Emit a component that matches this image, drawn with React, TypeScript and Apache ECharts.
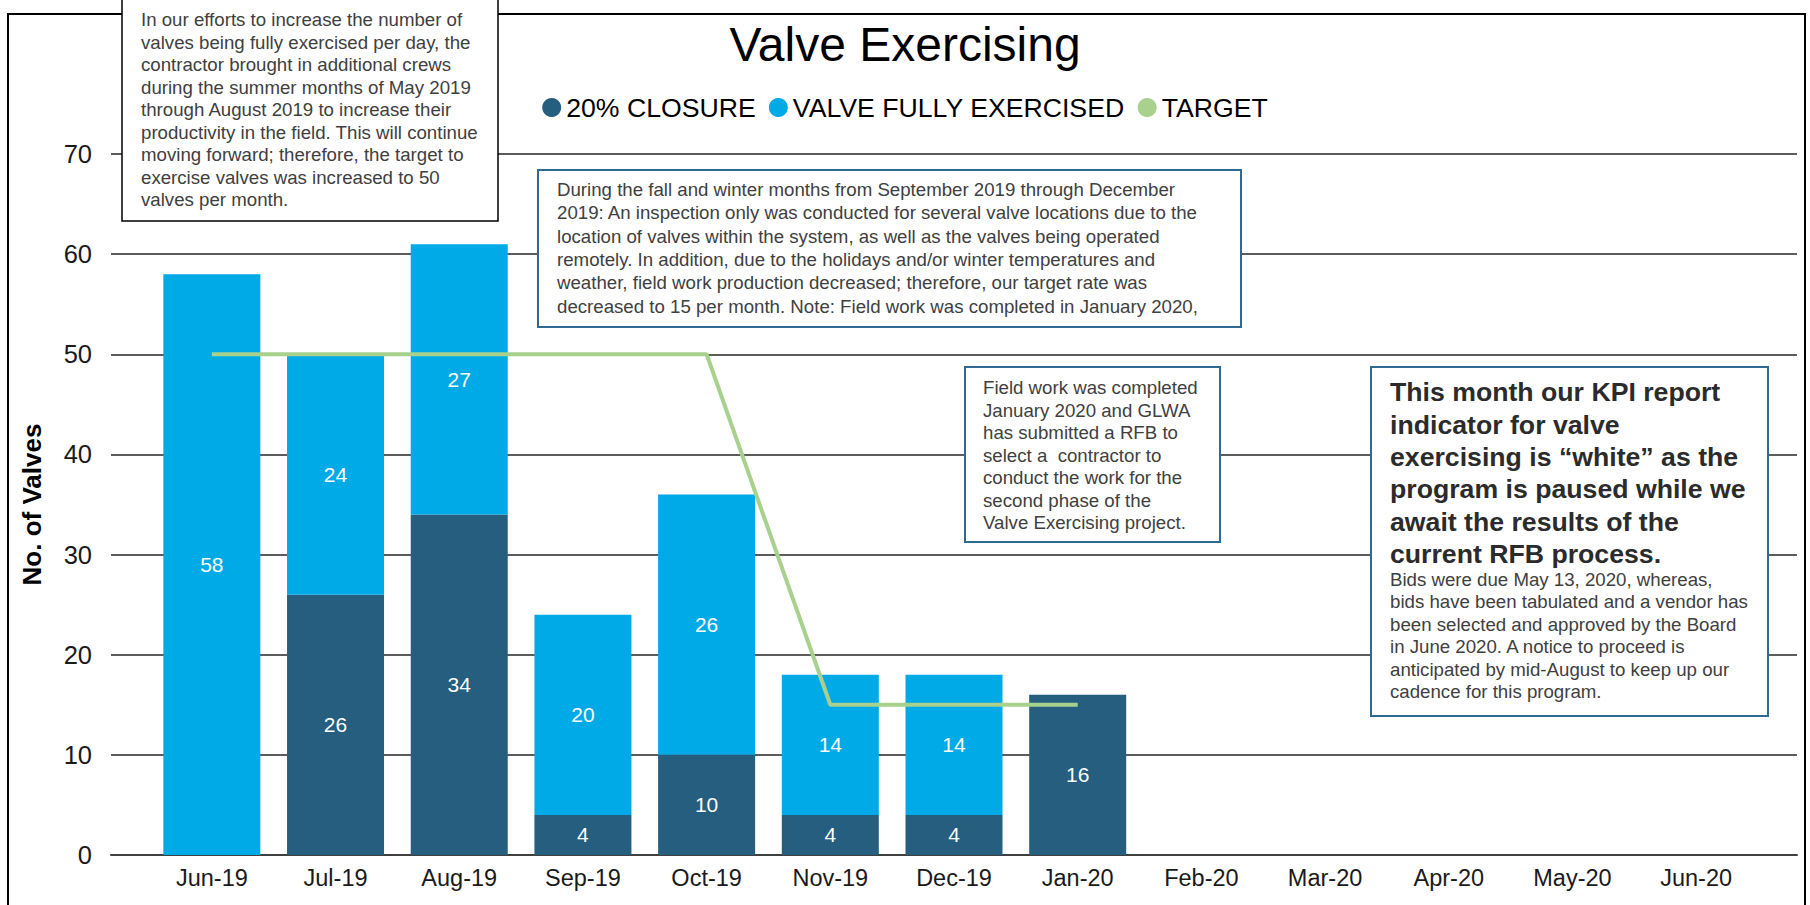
import React, { useEffect, useRef } from "react";
import * as echarts from "echarts";

const months = ["Jun-19", "Jul-19", "Aug-19", "Sep-19", "Oct-19", "Nov-19", "Dec-19", "Jan-20", "Feb-20", "Mar-20", "Apr-20", "May-20", "Jun-20"];
const closure = [0, 26, 34, 4, 10, 4, 4, 16, null, null, null, null, null];
const fullyExercised = [58, 24, 27, 20, 26, 14, 14, 0, null, null, null, null, null];
const target = [50, 50, 50, 50, 50, 15, 15, 15, null, null, null, null, null];
const yMin = 0;
const yMax = 70;
const yStep = 10;

const titleText = "Valve Exercising";
const seriesNames = ["20% CLOSURE", "VALVE FULLY EXERCISED", "TARGET"];
const yAxisName = "No. of Valves";

const note1 = [
  "In our efforts to increase the number of",
  "valves being fully exercised per day, the",
  "contractor brought in additional crews",
  "during the summer months of May 2019",
  "through August 2019 to increase their",
  "productivity in the field. This will continue",
  "moving forward; therefore, the target to",
  "exercise valves was increased to 50",
  "valves per month.",
];
const note2 = [
  "During the fall and winter months from September 2019 through December",
  "2019: An inspection only was conducted for several valve locations due to the",
  "location of valves within the system, as well as the valves being operated",
  "remotely. In addition, due to the holidays and/or winter temperatures and",
  "weather, field work production decreased; therefore, our target rate was",
  "decreased to 15 per month. Note: Field work was completed in January 2020,",
];
const note3 = [
  "Field work was completed",
  "January 2020 and GLWA",
  "has submitted a RFB to",
  "select a  contractor to",
  "conduct the work for the",
  "second phase of the",
  "Valve Exercising project.",
];
const note4Bold = [
  "This month our KPI report",
  "indicator for valve",
  "exercising is \u201cwhite\u201d as the",
  "program is paused while we",
  "await the results of the",
  "current RFB process.",
];
const note4 = [
  "Bids were due May 13, 2020, whereas,",
  "bids have been tabulated and a vendor has",
  "been selected and approved by the Board",
  "in June 2020. A notice to proceed is",
  "anticipated by mid-August to keep up our",
  "cadence for this program.",
];

const FONT = "'Liberation Sans', Arial, Helvetica, sans-serif";
const DARK = "#255E7E";
const LIGHT = "#00AAE6";
const GREEN = "#A9D18E";
const BOX_BLUE = "#2F6A92";
const BODY = "#404040";

export default function App() {
  const ref = useRef<HTMLDivElement>(null);

  useEffect(() => {
    document.body.style.margin = "0";
    document.body.style.overflow = "hidden";
    if (!ref.current) return;
    const chart = echarts.init(ref.current, null, { renderer: "svg" });

    const labelFmt = (p: any) => (p.value ? String(p.value) : "");
    const textEl = (x: number, y: number, lines: string[], size: number, lh: number, color: string, weight = "normal") => ({
      type: "text",
      x,
      y,
      z: 110,
      style: {
        text: lines.join("\n"),
        fontSize: size,
        fontFamily: FONT,
        fontWeight: weight,
        lineHeight: lh,
        fill: color,
        verticalAlign: "top",
        align: "left",
      },
    });
    const boxEl = (x: number, y: number, w: number, h: number, stroke: string, lw: number) => ({
      type: "rect",
      z: 100,
      shape: { x, y, width: w, height: h },
      style: { fill: "#fff", stroke, lineWidth: lw },
    });

    const option: any = {
      animation: false,
      backgroundColor: "#fff",
      title: {
        text: titleText,
        left: "center",
        top: 20,
        padding: 0,
        textStyle: { fontFamily: FONT, fontSize: 48, fontWeight: "normal", color: "#000" },
      },
      legend: {
        top: 94,
        left: "center",
        padding: 0,
        itemGap: 13,
        itemWidth: 19,
        itemHeight: 19,
        textStyle: { fontFamily: FONT, fontSize: 26.67, color: "#000" },
        data: seriesNames.map((n) => ({ name: n, icon: "circle" })),
      },
      grid: [
        { left: 111, right: 13, top: 154, bottom: 50 },
        { left: 150, right: 52, top: 154, bottom: 50 },
      ],
      xAxis: [
        {
          type: "category",
          gridIndex: 0,
          data: [""],
          axisLine: { show: true, lineStyle: { color: "#404040", width: 2 } },
          axisTick: { show: false },
          axisLabel: { show: false },
          splitLine: { show: false },
        },
        {
          type: "category",
          gridIndex: 1,
          data: months,
          axisLine: { show: false },
          axisTick: { show: false },
          axisLabel: { fontFamily: FONT, fontSize: 23.5, color: "#1a1a1a", margin: 11, interval: 0 },
        },
      ],
      yAxis: [
        {
          type: "value",
          gridIndex: 0,
          min: yMin,
          max: yMax,
          interval: yStep,
          name: yAxisName,
          nameLocation: "middle",
          nameGap: 66,
          nameTextStyle: { fontFamily: FONT, fontSize: 26, fontWeight: "bold", color: "#000" },
          axisLine: { show: false },
          axisTick: { show: false },
          axisLabel: { fontFamily: FONT, fontSize: 25.5, color: "#1a1a1a", margin: 19 },
          splitLine: { show: true, lineStyle: { color: "#262626", width: 1.5 } },
        },
        {
          type: "value",
          gridIndex: 1,
          min: yMin,
          max: yMax,
          interval: yStep,
          show: false,
          splitLine: { show: false },
        },
      ],
      series: [
        {
          name: seriesNames[0],
          type: "bar",
          stack: "v",
          xAxisIndex: 1,
          yAxisIndex: 1,
          barWidth: 97,
          itemStyle: { color: DARK },
          label: { show: true, position: "inside", color: "#fff", fontFamily: FONT, fontSize: 21, formatter: labelFmt },
          data: closure,
        },
        {
          name: seriesNames[1],
          type: "bar",
          stack: "v",
          xAxisIndex: 1,
          yAxisIndex: 1,
          barWidth: 97,
          itemStyle: { color: LIGHT },
          label: { show: true, position: "inside", color: "#fff", fontFamily: FONT, fontSize: 21, formatter: labelFmt },
          data: fullyExercised,
        },
        {
          name: seriesNames[2],
          type: "line",
          xAxisIndex: 1,
          yAxisIndex: 1,
          symbol: "none",
          itemStyle: { color: GREEN },
          lineStyle: { color: GREEN, width: 4 },
          z: 5,
          data: target,
        },
      ],
      graphic: [
        {
          type: "rect",
          z: 90,
          shape: { x: 8, y: 14, width: 1797, height: 930 },
          style: { fill: "none", stroke: "#000", lineWidth: 2 },
        },
        boxEl(122, -10, 376, 231, "#000", 1.5),
        textEl(141, 8.5, note1, 18.67, 22.5, BODY),
        boxEl(538, 170, 703, 157, BOX_BLUE, 2),
        textEl(557, 177.5, note2, 18.67, 23.4, BODY),
        boxEl(965, 367, 255, 175, BOX_BLUE, 2),
        textEl(983, 376.5, note3, 18.67, 22.5, BODY),
        boxEl(1371, 367, 397, 349, BOX_BLUE, 2),
        textEl(1390, 376.3, note4Bold, 26.67, 32.3, "#2b2b2b", "bold"),
        textEl(1390, 568.3, note4, 18.67, 22.4, BODY),
      ],
    };

    chart.setOption(option);
    return () => chart.dispose();
  }, []);

  return <div ref={ref} style={{ width: 1810, height: 905 }} />;
}
